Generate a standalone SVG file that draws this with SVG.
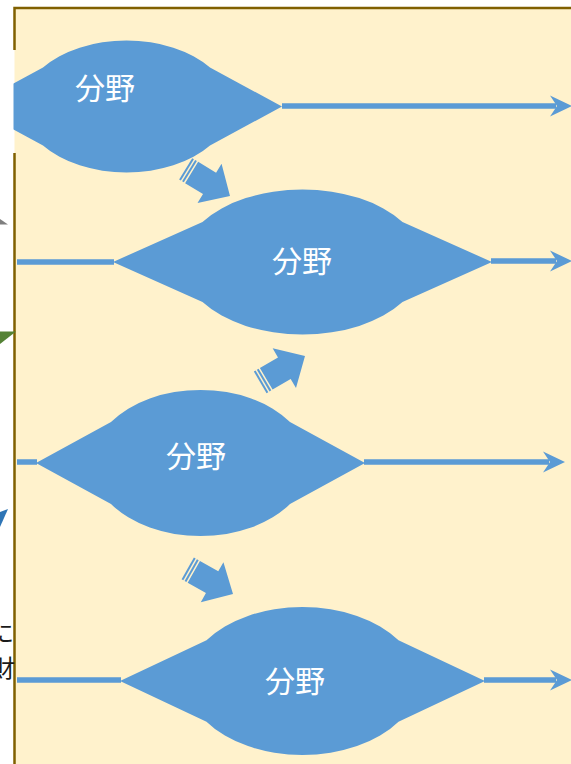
<svg xmlns="http://www.w3.org/2000/svg" xmlns:xlink="http://www.w3.org/1999/xlink" width="571" height="764" viewBox="0 0 571 764">
<style>
.lens{fill:#5B9BD5}
.ln{stroke:#5B9BD5;stroke-width:5.5;fill:none}
.ah{fill:#5B9BD5}
.lbl{font-family:"Noto Sans CJK JP","Noto Sans",sans-serif;font-size:30px;fill:#FFFFFF;text-anchor:middle;dominant-baseline:central}
.side{font-family:"Noto Sans CJK JP","Noto Sans",sans-serif;font-size:24px;fill:#1a1a1a;text-anchor:end;dominant-baseline:central}
</style>
<defs>
<clipPath id="panelclip"><rect x="13.5" y="0" width="560" height="764"/></clipPath>
<path id="head" d="M0,0 L-22,-10.5 L-15,0 L-22,10.5 Z"/>
<g id="sarrow">
<path d="M-45,-12.5 H-24 V-23 L0,0 L-24,23 V12.5 H-45 Z"/>
<rect x="-52" y="-12.5" width="2" height="25"/>
<rect x="-48.5" y="-12.5" width="2" height="25"/>
</g>
</defs>
<rect width="571" height="764" fill="#FFFFFF"/>
<g id="panel">
<rect x="14.5" y="8" width="560" height="760" fill="#FFF2CC"/>
<path d="M14.5,764 V153 M14.5,50 V8 H571" fill="none" stroke="#806000" stroke-width="2.5"/>
</g>
<g id="outside">
<polygon points="0,219 8,224.5 0,224.5" fill="#7F7F7F"/>
<polygon points="0,331.5 16,331.5 0,344" fill="#548235"/>
<polygon points="0,512 8,509 0,527" fill="#2E75B6"/>
<text class="side" x="14" y="631">に</text>
<text class="side" x="15" y="666">財</text>
</g>
<g id="connectors">
<path class="ln" d="M282,106 H556"/>
<use href="#head" class="ah" x="572" y="106"/>
<path class="ln" d="M17,262 H114 M491,261 H556"/>
<use href="#head" class="ah" x="572" y="261"/>
<path class="ln" d="M17,462 H37 M364,462 H549"/>
<use href="#head" class="ah" x="565" y="462"/>
<path class="ln" d="M17,680 H121 M484,680 H556"/>
<use href="#head" class="ah" x="572" y="680"/>
</g>
<g id="lens1">
<path class="lens" clip-path="url(#panelclip)" d="M-29,106.5 L43,67.5 A103.5 66 0 0 1 210,67.5 L282,106.5 L210,145.5 A103.5 66 0 0 1 43,145.5 Z"/>
<text class="lbl" x="105" y="86">分野</text>
</g>
<g id="lens2">
<path class="lens" d="M113,262 L202.5,221.9 A120 72.5 0 0 1 402.5,221.9 L492,262 L402.5,302.1 A120 72.5 0 0 1 202.5,302.1 Z"/>
<text class="lbl" x="302" y="259">分野</text>
</g>
<g id="lens3">
<path class="lens" d="M36,463 L111,422.1 A108 73 0 0 1 290,422.1 L365,463 L290,503.9 A108 73 0 0 1 111,503.9 Z"/>
<text class="lbl" x="196" y="454">分野</text>
</g>
<g id="lens4">
<path class="lens" d="M120,681 L206.5,640.3 A115 74 0 0 1 398.5,640.3 L485,681 L398.5,721.7 A115 74 0 0 1 206.5,721.7 Z"/>
<text class="lbl" x="295" y="679">分野</text>
</g>
<g id="arrow1" class="ah"><use href="#sarrow" transform="translate(230,196) rotate(31.5)"/></g>
<g id="arrow2" class="ah"><use href="#sarrow" transform="translate(305,356) rotate(-30.5)"/></g>
<g id="arrow3" class="ah"><use href="#sarrow" transform="translate(233,594) rotate(29.5)"/></g>
</svg>
